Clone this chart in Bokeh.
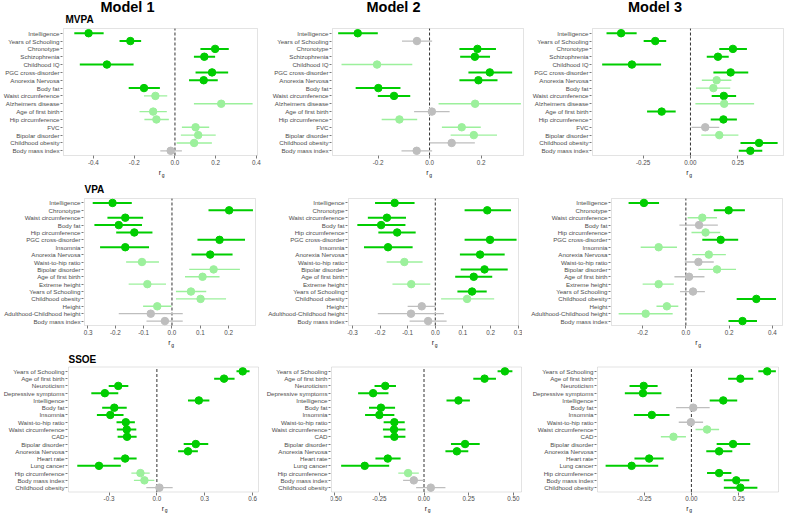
from bokeh.plotting import figure
from bokeh.layouts import row, column
from bokeh.models import Range1d, FixedTicker, ColumnDataSource, Label, BoxAnnotation
from bokeh.embed import file_html
from bokeh.resources import INLINE

# ---------------- data ----------------
# significance code: 2 = significant (dark green), 1 = nominal (light green), 0 = n.s. (grey)
MVPA_TRAITS = ["Intelligence", "Years of Schooling", "Chronotype", "Schizophrenia", "Childhood IQ",
               "PGC cross-disorder", "Anorexia Nervosa", "Body fat", "Waist circumference",
               "Alzheimers disease", "Age of first birth", "Hip circumference", "FVC",
               "Bipolar disorder", "Childhood obesity", "Body mass index"]

mvpa_m1_rg = [-0.424, -0.219, 0.197, 0.144, -0.334, 0.182, 0.141, -0.152, -0.096, 0.227, -0.107, -0.091, 0.101, 0.114, 0.094, -0.021]
mvpa_m1_lo = [-0.494, -0.272, 0.125, 0.093, -0.467, 0.101, 0.069, -0.227, -0.152, 0.093, -0.174, -0.150, 0.034, 0.029, 0.008, -0.072]
mvpa_m1_hi = [-0.350, -0.166, 0.264, 0.197, -0.203, 0.261, 0.210, -0.074, -0.038, 0.381, -0.040, -0.030, 0.168, 0.200, 0.181, 0.034]
mvpa_m1_sig = [2, 2, 2, 2, 2, 2, 2, 2, 1, 1, 1, 1, 1, 1, 1, 0]

mvpa_m2_rg = [-0.279, -0.049, 0.186, 0.176, -0.204, 0.234, 0.190, -0.199, -0.138, 0.177, 0.009, -0.117, 0.125, 0.172, 0.086, -0.050]
mvpa_m2_lo = [-0.355, -0.107, 0.116, 0.119, -0.342, 0.151, 0.116, -0.287, -0.201, 0.035, -0.060, -0.186, 0.048, 0.082, 0.000, -0.109]
mvpa_m2_hi = [-0.201, 0.010, 0.258, 0.235, -0.067, 0.321, 0.264, -0.113, -0.075, 0.355, 0.078, -0.048, 0.199, 0.262, 0.176, 0.010]
mvpa_m2_sig = [2, 0, 2, 2, 1, 2, 2, 2, 2, 1, 0, 1, 1, 1, 0, 0]

mvpa_m3_rg = [-0.366, -0.186, 0.224, 0.145, -0.309, 0.212, 0.138, 0.121, 0.176, 0.178, -0.152, 0.174, 0.078, 0.152, 0.362, 0.316]
mvpa_m3_lo = [-0.443, -0.247, 0.152, 0.086, -0.466, 0.121, 0.060, 0.029, 0.112, 0.026, -0.229, 0.107, 0.005, 0.057, 0.264, 0.255]
mvpa_m3_hi = [-0.284, -0.128, 0.298, 0.202, -0.155, 0.305, 0.216, 0.210, 0.241, 0.336, -0.078, 0.245, 0.152, 0.253, 0.460, 0.379]
mvpa_m3_sig = [2, 2, 2, 2, 2, 2, 1, 1, 2, 1, 2, 2, 0, 1, 2, 2]

VPA_TRAITS = ["Intelligence", "Chronotype", "Waist circumference", "Body fat", "Hip circumference",
              "PGC cross-disorder", "Insomnia", "Anorexia Nervosa", "Waist-to-hip ratio",
              "Bipolar disorder", "Age of first birth", "Extreme height", "Years of Schooling",
              "Childhood obesity", "Height", "Adulthood-Childhood height", "Body mass index"]

vpa_m1_rg = [-0.210, 0.202, -0.165, -0.188, -0.133, 0.168, -0.165, 0.135, -0.106, 0.147, 0.108, -0.087, 0.067, 0.101, -0.052, -0.075, -0.025]
vpa_m1_lo = [-0.280, 0.129, -0.228, -0.274, -0.197, 0.090, -0.254, 0.069, -0.162, 0.061, 0.046, -0.153, 0.014, 0.014, -0.102, -0.188, -0.090]
vpa_m1_hi = [-0.142, 0.286, -0.102, -0.106, -0.069, 0.258, -0.081, 0.214, -0.046, 0.240, 0.168, -0.021, 0.121, 0.191, -0.002, 0.038, 0.038]
vpa_m1_sig = [2, 2, 2, 2, 2, 2, 2, 2, 1, 1, 1, 1, 1, 1, 1, 0, 0]

vpa_m2_rg = [-0.147, 0.188, -0.175, -0.196, -0.138, 0.198, -0.171, 0.162, -0.112, 0.178, 0.139, -0.087, 0.133, 0.115, -0.049, -0.088, -0.026]
vpa_m2_lo = [-0.218, 0.106, -0.244, -0.282, -0.206, 0.106, -0.258, 0.089, -0.176, 0.092, 0.072, -0.155, 0.080, 0.021, -0.100, -0.208, -0.093]
vpa_m2_hi = [-0.075, 0.274, -0.106, -0.108, -0.071, 0.294, -0.082, 0.251, -0.046, 0.262, 0.206, -0.018, 0.186, 0.213, 0.000, 0.031, 0.041]
vpa_m2_sig = [2, 2, 2, 2, 2, 2, 2, 2, 1, 2, 2, 1, 2, 1, 0, 0, 0]

vpa_m3_rg = [-0.194, 0.198, 0.076, 0.061, 0.091, 0.161, -0.126, 0.106, 0.058, 0.144, 0.015, -0.126, 0.033, 0.326, -0.088, -0.186, 0.262]
vpa_m3_lo = [-0.265, 0.129, 0.008, -0.030, 0.026, 0.076, -0.209, 0.030, -0.005, 0.058, -0.053, -0.200, -0.027, 0.235, -0.136, -0.311, 0.197]
vpa_m3_hi = [-0.124, 0.273, 0.144, 0.148, 0.159, 0.242, -0.041, 0.185, 0.129, 0.232, 0.086, -0.056, 0.088, 0.417, -0.035, -0.061, 0.329]
vpa_m3_sig = [2, 2, 1, 0, 1, 2, 1, 1, 0, 1, 0, 1, 0, 2, 1, 1, 2]

SSOE_TRAITS = ["Years of Schooling", "Age of first birth", "Neuroticism", "Depressive symptoms",
               "Intelligence", "Body fat", "Insomnia", "Waist-to-hip ratio", "Waist circumference",
               "CAD", "Bipolar disorder", "Anorexia Nervosa", "Heart rate", "Lung cancer",
               "Hip circumference", "Body mass index", "Childhood obesity"]

ssoe_m1_rg = [0.538, 0.421, -0.242, -0.326, 0.263, -0.267, -0.292, -0.195, -0.189, -0.187, 0.244, 0.195, -0.199, -0.363, -0.103, -0.078, 0.016]
ssoe_m1_lo = [0.499, 0.359, -0.302, -0.411, 0.195, -0.343, -0.376, -0.253, -0.251, -0.246, 0.168, 0.133, -0.271, -0.499, -0.160, -0.144, -0.066]
ssoe_m1_hi = [0.581, 0.487, -0.179, -0.242, 0.329, -0.189, -0.209, -0.138, -0.129, -0.127, 0.322, 0.257, -0.127, -0.226, -0.045, -0.016, 0.099]
ssoe_m1_sig = [2, 2, 2, 2, 2, 2, 2, 2, 2, 2, 2, 2, 2, 2, 1, 1, 0]

ssoe_m2_rg = [0.453, 0.339, -0.217, -0.285, 0.193, -0.241, -0.250, -0.166, -0.168, -0.166, 0.230, 0.184, -0.203, -0.332, -0.089, -0.057, 0.038]
ssoe_m2_lo = [0.412, 0.276, -0.277, -0.369, 0.126, -0.308, -0.330, -0.226, -0.230, -0.226, 0.151, 0.120, -0.272, -0.464, -0.144, -0.117, -0.044]
ssoe_m2_hi = [0.495, 0.403, -0.157, -0.199, 0.257, -0.162, -0.166, -0.108, -0.104, -0.104, 0.312, 0.248, -0.131, -0.195, -0.029, 0.002, 0.120]
ssoe_m2_sig = [2, 2, 2, 2, 2, 2, 2, 2, 2, 2, 2, 2, 2, 2, 1, 0, 0]

ssoe_m3_rg = [0.402, 0.260, -0.253, -0.257, 0.169, 0.010, -0.210, -0.003, 0.083, -0.095, 0.221, 0.147, -0.224, -0.317, 0.147, 0.238, 0.260]
ssoe_m3_lo = [0.355, 0.195, -0.328, -0.353, 0.097, -0.081, -0.305, -0.067, 0.022, -0.162, 0.134, 0.079, -0.302, -0.455, 0.083, 0.172, 0.172]
ssoe_m3_hi = [0.448, 0.328, -0.179, -0.159, 0.243, 0.097, -0.116, 0.062, 0.147, -0.029, 0.312, 0.217, -0.147, -0.176, 0.212, 0.307, 0.350]
ssoe_m3_sig = [2, 2, 2, 2, 2, 0, 2, 0, 1, 1, 2, 2, 2, 2, 2, 2, 2]

# x-axis ticks and labels per panel
TICKS_MVPA_M1 = [-0.4, -0.2, 0.0, 0.2, 0.4]
LABELS_MVPA_M1 = ["-0.4", "-0.2", "0.0", "0.2", "0.4"]
TICKS_MVPA_M2 = [-0.2, 0.0, 0.2]
LABELS_MVPA_M2 = ["-0.2", "0.0", "0.2"]
TICKS_MVPA_M3 = [-0.25, 0.0, 0.25]
LABELS_MVPA_M3 = ["-0.25", "0.00", "0.25"]
TICKS_VPA_M1 = [-0.3, -0.2, -0.1, 0.0, 0.1, 0.2]
LABELS_VPA_M1 = ["-0.3", "-0.2", "-0.1", "0.0", "0.1", "0.2"]
TICKS_VPA_M2 = [-0.3, -0.2, -0.1, 0.0, 0.1, 0.2, 0.3]
LABELS_VPA_M2 = ["-0.3", "-0.2", "-0.1", "0.0", "0.1", "0.2", "0.3"]
TICKS_VPA_M3 = [-0.2, 0.0, 0.2, 0.4]
LABELS_VPA_M3 = ["-0.2", "0.0", "0.2", "0.4"]
TICKS_SSOE_M1 = [-0.3, 0.0, 0.3, 0.6]
LABELS_SSOE_M1 = ["-0.3", "0.0", "0.3", "0.6"]
TICKS_SSOE_M2 = [-0.5, -0.25, 0.0, 0.25, 0.5]
LABELS_SSOE_M2 = ["-0.50", "-0.25", "0.00", "0.25", "0.50"]
TICKS_SSOE_M3 = [-0.25, 0.0, 0.25]
LABELS_SSOE_M3 = ["-0.25", "0.00", "0.25"]

# ---------------- styling ----------------
FONT = "Liberation Sans"
COLORS = {2: "#00CD00", 1: "#9CF09C", 0: "#BEBEBE"}
WIDTHS = {2: 2.0, 1: 1.4, 0: 1.3}
BORDER = "#A3A3A3"


def panel(traits, rg, lo, hi, sig, xlim, ticks, tick_labels,
          fw, H, bl, br, pt, pb, titles=(), sub_dy=17):
    """fw/bl/br: panel box width and left/right margins (px); pt/pb: box top/bottom (px from top)."""
    n = len(traits)
    ex = (xlim[1] - xlim[0]) / fw          # one pixel in data units (x)
    s = (pb - pt) / (n + 0.2)              # pixels per row
    y_lo, y_hi = -0.6, n - 0.4             # panel box limits (data units)
    y_top = y_hi + pt / s
    y_bot = y_lo - (H - pb) / s

    # the frame extends 1px left of the box and over the whole right margin,
    # so that edge tick labels are not clipped
    p = figure(frame_width=fw + 1 + br, height=H,
               x_range=Range1d(xlim[0] - ex, xlim[1] + br * ex), y_range=Range1d(y_bot, y_top),
               output_backend="svg", toolbar_location=None, title=None,
               min_border_left=bl - 1, min_border_right=0,
               min_border_top=0, min_border_bottom=0)
    p.background_fill_color = "white"
    p.border_fill_color = "white"
    p.outline_line_color = None
    p.xgrid.visible = False
    p.ygrid.visible = False

    ypos = [n - 1 - i for i in range(n)]

    ya = p.yaxis[0]
    ya.ticker = FixedTicker(ticks=ypos)
    ya.major_label_overrides = {y: t for y, t in zip(ypos, traits)}
    ya.major_label_text_font_size = "6.2px"
    ya.major_tick_out = 2

    xa = p.xaxis[0]
    xa.fixed_location = y_lo
    xa.ticker = FixedTicker(ticks=ticks)
    xa.major_label_overrides = {t: l for t, l in zip(ticks, tick_labels)}
    xa.major_label_text_font_size = "6.3px"
    xa.major_tick_out = 3

    for ax in (xa, ya):
        ax.axis_line_color = None
        ax.major_tick_line_color = "#7A7A7A"
        ax.major_tick_in = 0
        ax.minor_tick_line_color = None
        ax.major_label_text_font = FONT
        ax.major_label_text_color = "#4D4D4D"
        ax.major_label_standoff = 1

    # panel border
    p.add_layout(BoxAnnotation(left=xlim[0], right=xlim[1], bottom=y_lo, top=y_hi,
                               fill_color=None, fill_alpha=0, line_color=BORDER, line_width=1))
    # dashed reference line at r_g = 0
    p.segment(x0=[0], y0=[y_lo], x1=[0], y1=[y_hi], line_color="#333333",
              line_dash="3 2", line_width=1)

    src = ColumnDataSource(dict(
        y=ypos, rg=list(rg), lo=list(lo), hi=list(hi),
        color=[COLORS[v] for v in sig], lw=[WIDTHS[v] for v in sig]))
    p.segment(x0="lo", y0="y", x1="hi", y1="y", line_color="color", line_width="lw", source=src)
    p.scatter(x="rg", y="y", size=7.5, fill_color="color", line_color="color", source=src)

    # axis title r_g
    cx = (xlim[0] + xlim[1]) / 2.0
    p.add_layout(Label(x=cx, y=y_lo, x_offset=-0.6, y_offset=-sub_dy, text="r",
                       text_align="center", text_baseline="middle", text_font=FONT,
                       text_font_size="7px", text_color="#1A1A1A"))
    p.add_layout(Label(x=cx, y=y_lo, x_offset=1.3, y_offset=-sub_dy - 2, text="g",
                       text_align="left", text_baseline="middle", text_font=FONT,
                       text_font_size="5px", text_color="#1A1A1A"))

    # titles (text, font size, x offset from box left, y offset above box top)
    for text, size, xo, yo in titles:
        p.add_layout(Label(x=xlim[0], y=y_hi, x_offset=xo, y_offset=yo, text=text,
                           text_align="left", text_baseline="middle", text_font=FONT,
                           text_font_size=size, text_font_style="bold", text_color="black"))
    return p


# ---------------- panels ----------------
p11 = panel(MVPA_TRAITS, mvpa_m1_rg, mvpa_m1_lo, mvpa_m1_hi, mvpa_m1_sig, (-0.547, 0.405),
            TICKS_MVPA_M1, LABELS_MVPA_M1, 194, 182, 61, 6, 28, 155,
            titles=[("MVPA", "10px", 2, 8.6), ("Model 1", "14.5px", 37, 21.2)])
p12 = panel(MVPA_TRAITS, mvpa_m2_rg, mvpa_m2_lo, mvpa_m2_hi, mvpa_m2_sig, (-0.377, 0.365),
            TICKS_MVPA_M2, LABELS_MVPA_M2, 191, 182, 69, 1, 28, 155,
            titles=[("Model 2", "14.5px", 34, 21.2)])
p13 = panel(MVPA_TRAITS, mvpa_m3_rg, mvpa_m3_lo, mvpa_m3_hi, mvpa_m3_sig, (-0.517, 0.491),
            TICKS_MVPA_M3, LABELS_MVPA_M3, 191, 182, 68, 3, 28, 155,
            titles=[("Model 3", "14.5px", 35.5, 21.2)])

p21 = panel(VPA_TRAITS, vpa_m1_rg, vpa_m1_lo, vpa_m1_hi, vpa_m1_sig, (-0.309, 0.295),
            TICKS_VPA_M1, LABELS_VPA_M1, 171, 167, 84, 6, 16, 143,
            titles=[("VPA", "10px", 0, 8.8)])
p22 = panel(VPA_TRAITS, vpa_m2_rg, vpa_m2_lo, vpa_m2_hi, vpa_m2_sig, (-0.314, 0.301),
            TICKS_VPA_M2, LABELS_VPA_M2, 170, 167, 87, 4, 16, 143)
p23 = panel(VPA_TRAITS, vpa_m3_rg, vpa_m3_lo, vpa_m3_hi, vpa_m3_sig, (-0.344, 0.447),
            TICKS_VPA_M3, LABELS_VPA_M3, 171, 167, 89, 2, 16, 143)

p31 = panel(SSOE_TRAITS, ssoe_m1_rg, ssoe_m1_lo, ssoe_m1_hi, ssoe_m1_sig, (-0.554, 0.637),
            TICKS_SSOE_M1, LABELS_SSOE_M1, 190, 164, 67, 4, 17.5, 142.5,
            titles=[("SSOE", "10px", 0, 7.6)], sub_dy=16)
p32 = panel(SSOE_TRAITS, ssoe_m2_rg, ssoe_m2_lo, ssoe_m2_hi, ssoe_m2_sig, (-0.518, 0.546),
            TICKS_SSOE_M2, LABELS_SSOE_M2, 190, 164, 69, 2, 17.5, 142.5, sub_dy=16)
p33 = panel(SSOE_TRAITS, ssoe_m3_rg, ssoe_m3_lo, ssoe_m3_hi, ssoe_m3_sig, (-0.498, 0.462),
            TICKS_SSOE_M3, LABELS_SSOE_M3, 181, 164, 74, 7, 17.5, 142.5, sub_dy=16)

layout = column(row(p11, p12, p13), row(p21, p22, p23), row(p31, p32, p33))

open("out.html", "w").write(file_html(layout, INLINE))
